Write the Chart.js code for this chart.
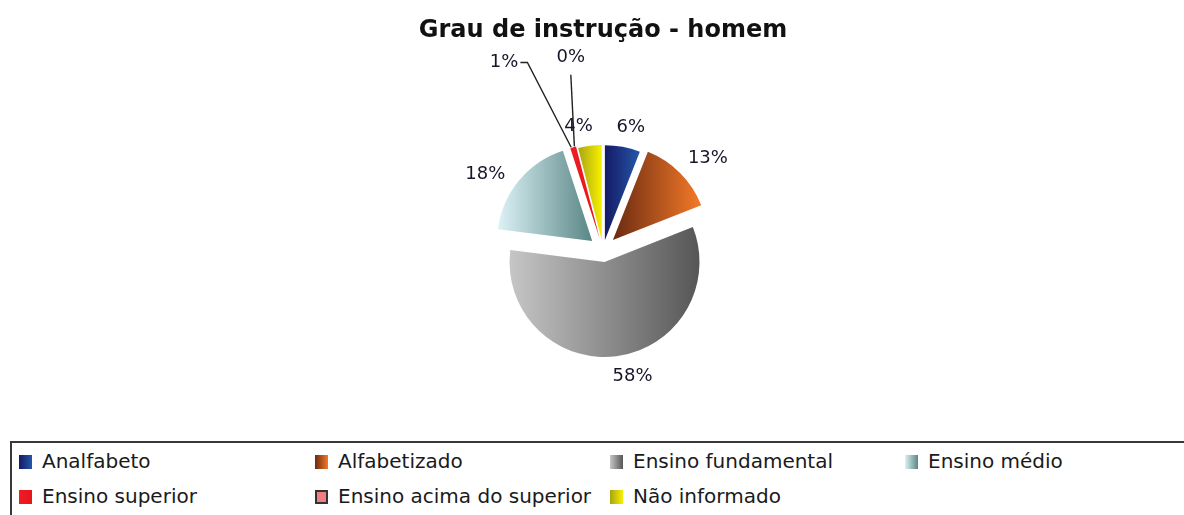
<!DOCTYPE html>
<html>
<head>
<meta charset="utf-8">
<script src="https://cdn.jsdelivr.net/npm/chart.js@4.4.0/dist/chart.umd.min.js"></script>
<style>
  html, body { margin: 0; padding: 0; background: #fff; width: 1184px; height: 515px; overflow: hidden; }
  #wrap { position: absolute; left: 0; top: 0; width: 1184px; height: 440px; }
  #legend { position: absolute; left: 10px; top: 441px; width: 1200px; height: 100px; box-sizing: border-box;
            border: 2px solid #383838; font-family: "DejaVu Sans", sans-serif; font-size: 20px; color: #1a1a1a; }
  .item { position: absolute; white-space: nowrap; height: 24px; line-height: 24px; }
  .box { position: absolute; left: 0; top: 6px; width: 13px; height: 14px; box-sizing: border-box; }
  .txt { position: absolute; left: 23px; top: 0; }
</style>
</head>
<body>
<div id="wrap"><canvas id="c"></canvas></div>
<div id="legend"></div>
<script>
// ---- data ----
const chartTitle = 'Grau de instrução - homem';
const categories = ['Analfabeto', 'Alfabetizado', 'Ensino fundamental', 'Ensino médio',
                    'Ensino superior', 'Ensino acima do superior', 'Não informado'];
const percentValues = [6, 13, 58, 18, 1, 0, 4];

// ---- styles ----
const sliceGradients = [
  ['#151a66', '#2458a8'],
  ['#6a2a12', '#f57a28'],
  ['#c6c6c6', '#565656'],
  ['#dcf2f6', '#5a8686'],
  ['#f01c24', '#e8141c'],
  ['#f08080', '#f08080'],
  ['#a8a414', '#f8f000']
];
const legendBorder = [null, null, null, null, null, '2px solid #333', null];
const explode = [10, 14, 12, 14, 12, 12, 10];
const PIE_RADIUS = 95;
const LABEL_GAP = 9;
const labelNudge = [2, 4, -6, -7, 0, 0, -4];          // degrees
const movedLabels = {
  4: { angle: 332.2, dist: 212, leader: 'right' },
  5: { angle: 350.5, dist: 195, leader: 'below' }
};

const total = percentValues.reduce((s, v) => s + v, 0);

function sliceGeometry(chart, i) {
  const a = chart.chartArea;
  let before = 0;
  for (let k = 0; k < i; k++) before += percentValues[k];
  const start = -Math.PI / 2 + before / total * 2 * Math.PI;
  const end = start + percentValues[i] / total * 2 * Math.PI;
  const mid = (start + end) / 2;
  const cx = (a.left + a.right) / 2, cy = (a.top + a.bottom) / 2;
  const ox = cx + Math.cos(mid) * explode[i];
  const oy = cy + Math.sin(mid) * explode[i];
  const R = PIE_RADIUS;
  const xs = [ox, ox + R * Math.cos(start), ox + R * Math.cos(end)];
  [-Math.PI, 0, Math.PI, 2 * Math.PI].forEach(t => { if (t >= start && t <= end) xs.push(ox + R * Math.cos(t)); });
  return { cx, cy, ox, oy, mid, xmin: Math.min(...xs), xmax: Math.max(...xs) };
}

function sliceFill(ctx) {
  const chart = ctx.chart, i = ctx.dataIndex;
  const stops = sliceGradients[i] || sliceGradients[0];
  if (!chart.chartArea || i === undefined) return stops[0];
  const g = sliceGeometry(chart, i);
  const x0 = g.xmin, x1 = Math.max(g.xmax, g.xmin + 1);
  const grad = chart.ctx.createLinearGradient(x0, 0, x1, 0);
  grad.addColorStop(0, stops[0]);
  grad.addColorStop(1, stops[1]);
  return grad;
}

const explodePlugin = {
  id: 'explodeSlices',
  afterDatasetUpdate(chart, args) {
    args.meta.data.forEach((arc, i) => {
      const mid = (arc.startAngle + arc.endAngle) / 2;
      arc.x += Math.cos(mid) * explode[i];
      arc.y += Math.sin(mid) * explode[i];
    });
  }
};

const labelPlugin = {
  id: 'pctLabels',
  afterDatasetsDraw(chart) {
    const c = chart.ctx;
    c.save();
    c.font = '18px "DejaVu Sans"';
    c.fillStyle = '#16162a';
    c.textAlign = 'center';
    c.textBaseline = 'middle';
    c.strokeStyle = '#222';
    c.lineWidth = 1.4;
    percentValues.forEach((v, i) => {
      const g = sliceGeometry(chart, i);
      const text = Math.round(v / total * 100) + '%';
      const w = c.measureText(text).width, h = 18;
      const R = PIE_RADIUS;
      const px = g.ox + R * Math.cos(g.mid), py = g.oy + R * Math.sin(g.mid);
      let lx, ly;
      const m = movedLabels[i];
      if (m) {
        const ang = (m.angle - 90) * Math.PI / 180;
        lx = g.cx + Math.cos(ang) * m.dist;
        ly = g.cy + Math.sin(ang) * m.dist;
        c.beginPath();
        if (m.leader === 'right') {
          c.moveTo(lx + w / 2 + 2, ly);
          c.lineTo(lx + w / 2 + 9, ly);
        } else {
          c.moveTo(lx, ly + h / 2 + 8);
        }
        c.lineTo(px - 2, py);
        c.stroke();
      } else {
        const ang = g.mid + labelNudge[i] * Math.PI / 180;
        const dx = Math.cos(ang), dy = Math.sin(ang);
        const ext = (w / 2) * Math.abs(dx) + (h / 2) * Math.abs(dy);
        const dist = R + explode[i] + LABEL_GAP + ext;
        lx = g.cx + dx * dist;
        ly = g.cy + dy * dist;
      }
      c.fillText(text, lx, ly);
    });
    c.restore();
  }
};

new Chart(document.getElementById('c'), {
  type: 'pie',
  data: {
    labels: categories,
    datasets: [{
      data: percentValues,
      backgroundColor: sliceFill,
      borderWidth: 0,
      radius: PIE_RADIUS
    }]
  },
  options: {
    responsive: true,
    maintainAspectRatio: false,
    animation: false,
    events: [],
    layout: { padding: { left: 22, right: 0, top: 0, bottom: 0 } },
    plugins: {
      legend: { display: false },
      tooltip: { enabled: false },
      title: {
        display: true,
        text: chartTitle,
        color: '#111',
        font: { family: 'DejaVu Sans', size: 24, weight: 'bold' },
        padding: { top: 16, bottom: 15.2 }
      }
    }
  },
  plugins: [explodePlugin, labelPlugin]
});

// ---- HTML legend ----
const legend = document.getElementById('legend');
const colLeft = [7, 303, 598, 893];
const rowTop = [6, 41];
categories.forEach((name, i) => {
  const item = document.createElement('div');
  item.className = 'item';
  item.style.left = colLeft[i % 4] + 'px';
  item.style.top = rowTop[Math.floor(i / 4)] + 'px';
  const box = document.createElement('div');
  box.className = 'box';
  box.style.background = 'linear-gradient(to right, ' + sliceGradients[i][0] + ', ' + sliceGradients[i][1] + ')';
  if (legendBorder[i]) box.style.border = legendBorder[i];
  const txt = document.createElement('span');
  txt.className = 'txt';
  txt.textContent = name;
  item.appendChild(box);
  item.appendChild(txt);
  legend.appendChild(item);
});
</script>
</body>
</html>
